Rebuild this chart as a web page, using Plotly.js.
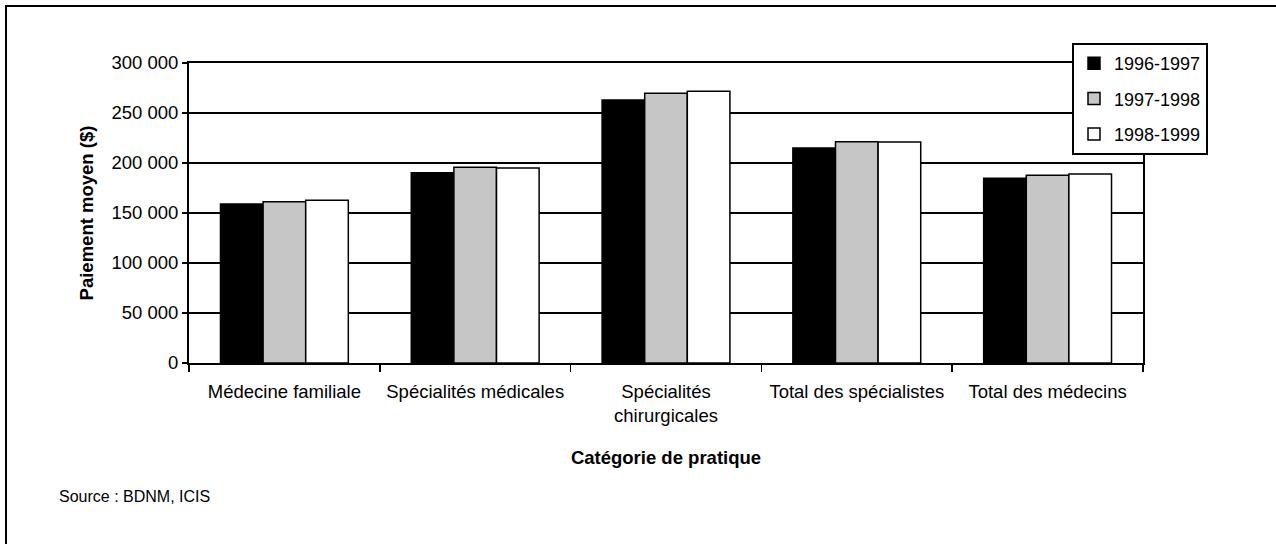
<!DOCTYPE html>
<html>
<head>
<meta charset="utf-8">
<script src="https://cdn.plot.ly/plotly-3.0.1.min.js"></script>
<style>
html,body{margin:0;padding:0;background:#fff;}
#chart{width:1276px;height:544px;}
</style>
</head>
<body>
<div id="chart"></div>
<script>
const categories = ["Médecine familiale", "Spécialités médicales", "Spécialités<br>chirurgicales", "Total des spécialistes", "Total des médecins"];
const seriesNames = ["1996-1997", "1997-1998", "1998-1999"];
const values1996 = [159000, 190300, 263000, 215000, 184700];
const values1997 = [161300, 195700, 269700, 221300, 187700];
const values1998 = [162700, 195000, 271700, 221000, 189000];
const yTickValues = [0, 50000, 100000, 150000, 200000, 250000, 300000];

const fills = ["#000000", "#c6c6c6", "#ffffff"];
const allValues = [values1996, values1997, values1998];

const traces = allValues.map((vals, i) => ({
  type: "bar",
  name: seriesNames[i],
  x: categories,
  y: vals,
  legendgroup: "g" + i,
  marker: {color: fills[i], line: {color: "#000", width: 1.5}},
  hoverinfo: "x+y+name"
}));

const FAM = "Liberation Sans, Arial, sans-serif";
const font = {family: FAM, size: 18.5, color: "#000"};

const layout = {
  width: 1276, height: 544,
  margin: {l: 189, r: 133, t: 63, b: 181},
  paper_bgcolor: "#fff", plot_bgcolor: "#fff",
  font: font,
  separators: ", ",
  barmode: "group",
  bargap: 0.33,
  bargroupgap: 0,
  showlegend: true,
  legend: {
    x: (1072 - 189) / 954, xanchor: "left",
    y: (363 - 43) / 300, yanchor: "top",
    bgcolor: "#fff", bordercolor: "#000", borderwidth: 2,
    font: {family: FAM, size: 18, color: "#000"}, tracegroupgap: 9, itemwidth: 30
  },
  xaxis: {
    type: "category",
    showline: true, linecolor: "#000", linewidth: 2, mirror: true,
    ticks: "outside", tickson: "boundaries", ticklen: 7, tickwidth: 1.5, tickcolor: "#000",
    ticklabelstandoff: 11,
    showgrid: false, zeroline: false,
    tickfont: font,
    title: {text: "<b>Catégorie de pratique</b>", font: font, standoff: 26}
  },
  yaxis: {
    range: [0, 300000], tickvals: yTickValues, tickformat: ",d",
    showline: true, linecolor: "#000", linewidth: 2, mirror: true,
    ticks: "outside", ticklen: 5, tickwidth: 1.5, tickcolor: "#000",
    showgrid: true, gridcolor: "#000", gridwidth: 1.5, zeroline: false,
    tickfont: font,
    title: {text: "<b>Paiement moyen ($)</b>", font: font, standoff: 13}
  },
  shapes: [{
    type: "rect", xref: "paper", yref: "paper",
    x0: (6 - 189) / 954, x1: (1500 - 189) / 954,
    y0: (363 - 6) / 300, y1: (363 - 700) / 300,
    line: {color: "#000", width: 2}, fillcolor: "rgba(0,0,0,0)", layer: "above"
  }],
  annotations: [{
    text: "Source : BDNM, ICIS", xref: "paper", yref: "paper",
    x: (57 - 189) / 954, xanchor: "left",
    y: (363 - 496) / 300, yanchor: "middle",
    showarrow: false, font: {family: FAM, size: 16, color: "#000"}
  }]
};

Plotly.newPlot("chart", traces, layout, {displayModeBar: false, staticPlot: true});
</script>
</body>
</html>
